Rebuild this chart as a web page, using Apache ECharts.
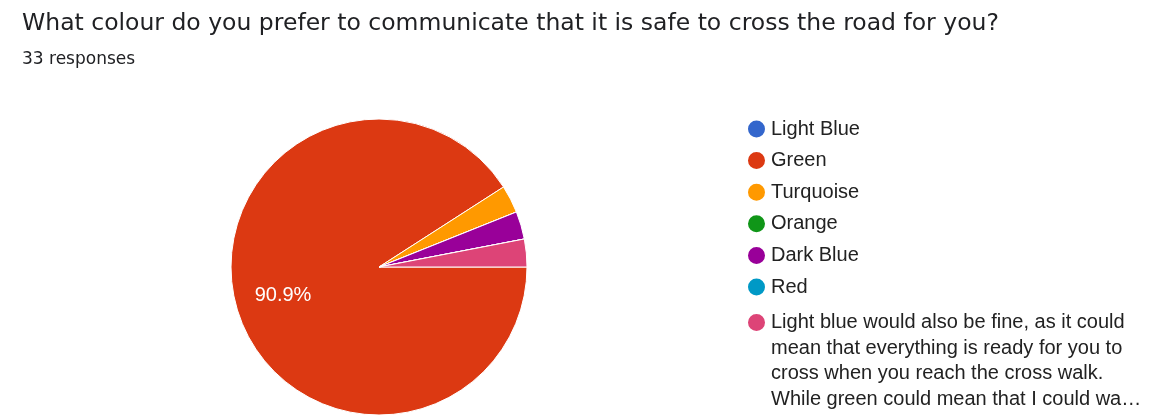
<!DOCTYPE html>
<html>
<head>
<meta charset="utf-8">
<script src="https://cdn.jsdelivr.net/npm/echarts@6/dist/echarts.min.js"></script>
<style>
  html, body { margin: 0; padding: 0; background: #fff; }
  #chart { width: 1152px; height: 416px; }
</style>
</head>
<body>
<div id="chart"></div>
<script>
const titleText = 'What colour do you prefer to communicate that it is safe to cross the road for you?'
const subText = '33 responses'
const categories = [
  'Light Blue',
  'Green',
  'Turquoise',
  'Orange',
  'Dark Blue',
  'Red',
  'Light blue would also be fine, as it could mean that everything is ready for you to cross when you reach the cross walk. While green could mean that I could wa\u2026',
]
const counts = [0, 30, 1, 0, 1, 0, 1]
const colors = ['#3366cc', '#dc3912', '#ff9900', '#109618', '#990099', '#0099c6', '#dd4477']

const total = counts.reduce((a, b) => a + b, 0)
const shortNames = categories.slice(0, -1)
const longName = categories[categories.length - 1]

const chart = echarts.init(document.getElementById('chart'))

const pieData = categories.map((name, i) => ({
  name,
  value: counts[i],
  itemStyle: { color: colors[i] },
}))

// second, invisible ring only carries the percentage labels further out
const labelData = categories.map((name, i) => ({
  name,
  value: counts[i],
  label: { show: counts[i] / total > 0.1 },
}))

const legendBase = {
  orient: 'vertical',
  left: 746,
  height: 1000,
  padding: 0,
  itemGap: 7.6,
  itemWidth: 19,
  itemHeight: 19,
  itemTextGap: 15,
  icon: 'circle',
  selectedMode: false,
  textStyle: {
    fontFamily: 'Arial',
    fontSize: 20,
    lineHeight: 24,
    color: '#222222',
  },
}

chart.setOption({
  animation: false,
  color: colors,
  title: [
    {
      text: titleText,
      left: 17,
      top: 7,
      textStyle: { fontFamily: 'DejaVu Sans', fontSize: 23.5, fontWeight: 'normal', color: '#202124' },
    },
    {
      text: subText,
      left: 17,
      top: 46,
      textStyle: { fontFamily: 'DejaVu Sans', fontSize: 17, fontWeight: 'normal', color: '#202124' },
    },
  ],
  legend: [
    Object.assign({}, legendBase, { top: 117, data: shortNames }),
    // long answer: rich text with top padding keeps the dot on the first line
    Object.assign({}, legendBase, {
      top: 312,
      data: [longName],
      formatter: name => '{w|' + name + '}',
      textStyle: {
        fontFamily: 'Arial',
        fontSize: 20,
        color: '#222222',
        width: 372,
        overflow: 'break',
        padding: [76.5, 0, 0, 0],
        rich: {
          w: { fontFamily: 'Arial', fontSize: 20, lineHeight: 25.5, color: '#222222' },
        },
      },
    }),
  ],
  series: [
    {
      type: 'pie',
      center: [379, 267],
      radius: [0, 148],
      startAngle: 0,
      clockwise: true,
      avoidLabelOverlap: false,
      label: { show: false },
      labelLine: { show: false },
      emphasis: { disabled: true },
      itemStyle: { borderColor: '#ffffff', borderWidth: 1 },
      data: pieData,
    },
    {
      type: 'pie',
      center: [379, 267],
      radius: [0, 194],
      startAngle: 0,
      clockwise: true,
      silent: true,
      avoidLabelOverlap: false,
      itemStyle: { color: 'transparent' },
      labelLine: { show: false },
      label: {
        position: 'inside',
        color: '#ffffff',
        fontFamily: 'Arial',
        fontSize: 20,
        formatter: p => (p.value / total * 100).toFixed(1) + '%',
      },
      data: labelData,
    },
  ],
})
</script>
</body>
</html>
